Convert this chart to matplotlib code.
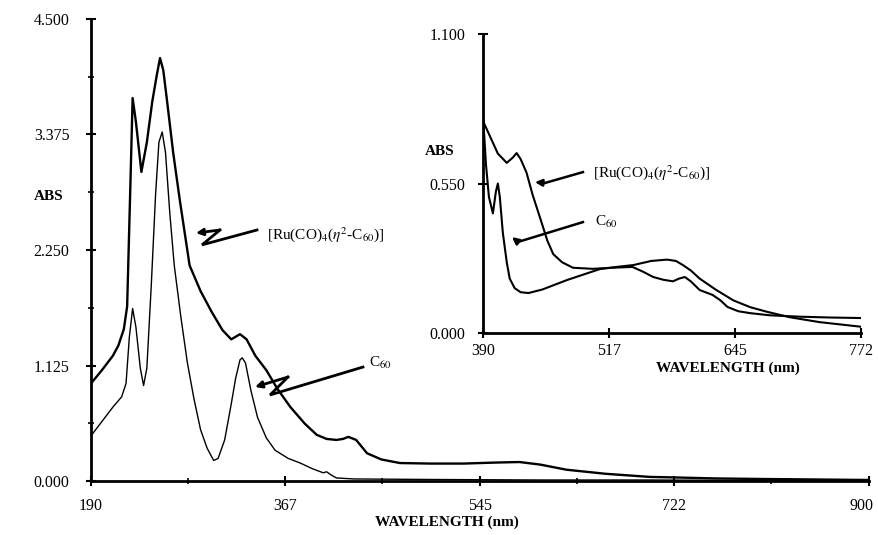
import matplotlib
matplotlib.use("Agg")
import matplotlib.pyplot as plt
import matplotlib.transforms as mtransforms
import numpy as np

plt.rcParams['font.family'] = ['Liberation Serif', 'DejaVu Serif']
plt.rcParams['mathtext.fontset'] = 'stix'

# main spectrum (190-900 nm)
ru_wl = [190, 200, 210, 215, 220, 223, 226, 228, 231, 236, 241, 246, 250, 253, 256, 259,
         265, 271, 280, 290, 300, 310, 318, 326, 332, 340, 350, 360, 372, 385, 396, 405,
         414, 420, 425, 432, 442, 455, 472, 500, 530, 560, 581, 600, 624, 660, 700, 722,
         760, 800, 850, 900]
ru_abs = [0.95, 1.08, 1.22, 1.32, 1.48, 1.70, 2.90, 3.73, 3.50, 3.01, 3.30, 3.70, 3.95, 4.12, 4.00, 3.74,
          3.20, 2.74, 2.10, 1.85, 1.65, 1.47, 1.38, 1.43, 1.38, 1.22, 1.08, 0.90, 0.72, 0.56, 0.45, 0.41,
          0.40, 0.41, 0.43, 0.40, 0.27, 0.21, 0.175, 0.17, 0.17, 0.18, 0.185, 0.16, 0.11, 0.07, 0.04, 0.035,
          0.025, 0.02, 0.015, 0.01]

c60_wl = [190, 200, 210, 218, 222, 225, 228, 231, 235, 238, 241, 245, 249, 252, 255, 258,
          262, 266, 272, 278, 284, 290, 296, 302, 306, 312, 318, 322, 326, 328, 331, 336,
          342, 350, 358, 370, 381, 392, 402, 405, 409, 414, 430, 500, 600, 700, 800, 900]
c60_abs = [0.44, 0.58, 0.72, 0.82, 0.95, 1.40, 1.68, 1.50, 1.10, 0.93, 1.10, 1.90, 2.80, 3.30, 3.40, 3.20,
           2.60, 2.10, 1.60, 1.15, 0.80, 0.50, 0.32, 0.20, 0.22, 0.40, 0.75, 1.00, 1.18, 1.20, 1.15, 0.88,
           0.62, 0.42, 0.30, 0.22, 0.175, 0.12, 0.08, 0.09, 0.06, 0.03, 0.02, 0.015, 0.01, 0.01, 0.005, 0.005]

main_xticks = [190, 367, 545, 722, 900]
main_yticks = [0.0, 1.125, 2.25, 3.375, 4.5]

# inset spectrum (390-772 nm)
ru_in_wl = [390, 395, 405, 414, 420, 424, 428, 434, 440, 448, 455, 461, 470, 481, 501, 520,
            541, 552, 562, 572, 582, 588, 594, 600, 609, 622, 630, 637, 648, 660, 680, 710, 740, 772]
ru_in_abs = [0.78, 0.74, 0.66, 0.626, 0.645, 0.662, 0.64, 0.59, 0.51, 0.42, 0.34, 0.29, 0.26, 0.24, 0.236, 0.24,
             0.243, 0.225, 0.206, 0.196, 0.19, 0.20, 0.206, 0.19, 0.158, 0.14, 0.12, 0.096, 0.08, 0.073, 0.065, 0.06, 0.057, 0.055]

c60_in_wl = [390, 393, 396, 400, 403, 405, 407, 410, 414, 417, 422, 428, 436, 450, 475, 508,
             525, 542, 560, 576, 585, 592, 600, 609, 625, 643, 660, 677, 700, 730, 772]
c60_in_abs = [0.80, 0.62, 0.50, 0.44, 0.52, 0.55, 0.50, 0.37, 0.26, 0.20, 0.165, 0.15, 0.147, 0.16, 0.195, 0.235,
              0.243, 0.25, 0.265, 0.27, 0.265, 0.25, 0.23, 0.20, 0.16, 0.12, 0.095, 0.078, 0.058, 0.04, 0.023]

inset_xticks = [390, 517, 645, 772]
inset_yticks = [0.0, 0.55, 1.1]

RU_LABEL = r'[Ru(CO)$_4$($\eta^2$-C$_{60}$)]'
C60_LABEL = r'C$_{60}$'


def style_axes(ax, xticks, yticks, xpad, ypad):
    for s in ['top', 'right']:
        ax.spines[s].set_visible(False)
    for s in ['left', 'bottom']:
        ax.spines[s].set_linewidth(2)
    ax.set_xticks(xticks)
    ax.set_xticklabels([str(t) for t in xticks])
    ax.set_yticks(yticks)
    ax.set_yticklabels(['%.3f' % t for t in yticks])
    ax.tick_params(direction='inout', length=7, width=1.5, labelsize=11.5)
    ax.tick_params(axis='x', pad=xpad)
    ax.tick_params(axis='y', pad=ypad)


def zigzag(ax, pts, lw=2):
    xs = [p[0] for p in pts]
    ys = [p[1] for p in pts]
    ax.plot(xs[:-1], ys[:-1], color='black', lw=lw, clip_on=False, solid_joinstyle='miter')
    ax.annotate('', xy=pts[-1], xytext=pts[-2],
                arrowprops=dict(arrowstyle='-|>', color='black', lw=lw,
                                mutation_scale=10, shrinkA=0, shrinkB=0))


fig = plt.figure(figsize=(8.79, 5.35), dpi=100)

ax = fig.add_axes([0.1035, 0.1009, 0.8851, 0.8636])
ax.plot(ru_wl, ru_abs, color='black', lw=1.7)
ax.plot(c60_wl, c60_abs, color='black', lw=1.0)
ax.set_xlim(190, 900)
ax.set_ylim(0, 4.5)
style_axes(ax, main_xticks, main_yticks, xpad=9, ypad=12)
ax.set_xticks([278.5, 456, 633.5, 811], minor=True)
ax.set_yticks([0.5625, 1.6875, 2.8125, 3.9375], minor=True)
ax.tick_params(which='minor', direction='inout', length=5, width=1.2)

# last x label sits close to the figure edge
last = ax.get_xticklabels()[-1]
last.set_transform(last.get_transform() +
                   mtransforms.ScaledTranslation(-7 / 100, 0, fig.dpi_scale_trans))

ax.text(351, 2.40, RU_LABEL, fontsize=11, va='center', ha='left')
zigzag(ax, [(341.5, 2.445), (291.3, 2.30), (307.7, 2.445), (285.8, 2.415)])
ax.text(444, 1.15, C60_LABEL, fontsize=11, va='center', ha='left')
zigzag(ax, [(438.2, 1.11), (353.4, 0.838), (369.8, 1.013), (339.7, 0.916)])

fig.text(49 / 879, 1 - 197 / 535, 'ABS', fontsize=11, fontweight='bold', ha='center', va='center')
fig.text(447 / 879, 1 - 522 / 535, 'WAVELENGTH (nm)', fontsize=11, fontweight='bold',
         ha='center', va='center')

axi = fig.add_axes([0.5495, 0.3776, 0.43, 0.5588])
axi.plot(ru_in_wl, ru_in_abs, color='black', lw=1.5)
axi.plot(c60_in_wl, c60_in_abs, color='black', lw=1.5)
axi.set_xlim(390, 772)
axi.set_ylim(0, 1.1)
style_axes(axi, inset_xticks, inset_yticks, xpad=4, ypad=9)
axi.patch.set_alpha(0)

axi.text(501, 0.592, RU_LABEL, fontsize=11, va='center', ha='left')
zigzag(axi, [(491, 0.592), (452.7, 0.552), (442.5, 0.555)], lw=1.8)
axi.text(503, 0.408, C60_LABEL, fontsize=11, va='center', ha='left')
zigzag(axi, [(491, 0.408), (425.4, 0.335), (419.3, 0.353)], lw=1.8)

fig.text(440 / 879, 1 - 151 / 535, 'ABS', fontsize=11, fontweight='bold', ha='center', va='center')
fig.text(728 / 879, 1 - 368 / 535, 'WAVELENGTH (nm)', fontsize=11, fontweight='bold',
         ha='center', va='center')

fig.savefig('out.png', dpi=100)
